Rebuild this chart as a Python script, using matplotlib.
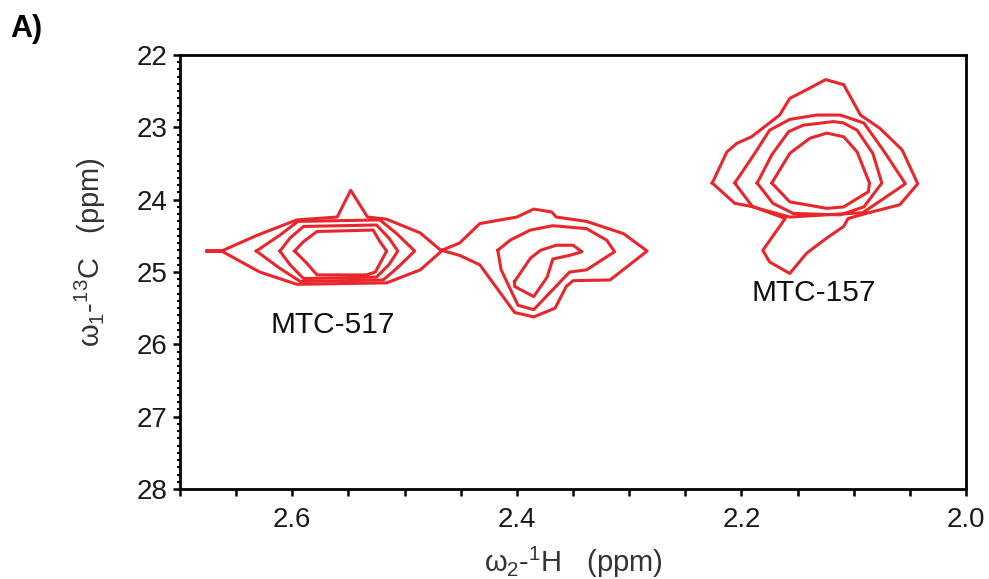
import numpy as np
import matplotlib.pyplot as plt
from matplotlib.ticker import MultipleLocator, FixedLocator

plt.rcParams['font.family'] = ['Liberation Sans', 'DejaVu Sans']
plt.rcParams['mathtext.fontset'] = 'custom'
plt.rcParams['mathtext.rm'] = 'Liberation Sans'
plt.rcParams['mathtext.it'] = 'Liberation Sans'

# contour outlines, (1H ppm, 13C ppm)
# MTC-517 peak, outer to inner
m517_1_h = [2.676, 2.663, 2.631, 2.596, 2.560, 2.548, 2.533, 2.516, 2.486, 2.467,
            2.486, 2.516, 2.596, 2.629, 2.663]
m517_1_c = [24.71, 24.71, 24.49, 24.28, 24.24, 23.87, 24.24, 24.27, 24.46, 24.71,
            24.97, 25.15, 25.17, 25.00, 24.71]
m517_2_h = [2.632, 2.611, 2.595, 2.522, 2.507, 2.491, 2.507, 2.519, 2.593, 2.611]
m517_2_c = [24.71, 24.49, 24.30, 24.28, 24.47, 24.71, 24.95, 25.11, 25.13, 24.95]
m517_3_h = [2.611, 2.602, 2.590, 2.525, 2.514, 2.506, 2.514, 2.525, 2.590, 2.602]
m517_3_c = [24.71, 24.53, 24.37, 24.35, 24.53, 24.71, 24.90, 25.07, 25.09, 24.90]
m517_4_h = [2.598, 2.590, 2.578, 2.528, 2.522, 2.516, 2.526, 2.534, 2.578, 2.587]
m517_4_c = [24.71, 24.58, 24.44, 24.42, 24.58, 24.71, 25.00, 25.04, 25.04, 24.88]

# unlabelled peak near 2.37 ppm
mid_1_h = [2.467, 2.451, 2.433, 2.400, 2.385, 2.369, 2.365, 2.338, 2.305, 2.284,
           2.317, 2.350, 2.356, 2.366, 2.385, 2.402, 2.433, 2.451]
mid_1_c = [24.70, 24.60, 24.33, 24.24, 24.13, 24.17, 24.24, 24.30, 24.47, 24.71,
           25.11, 25.12, 25.20, 25.50, 25.62, 25.56, 24.90, 24.77]
mid_2_h = [2.417, 2.406, 2.388, 2.368, 2.338, 2.320, 2.313, 2.338, 2.353, 2.385, 2.399, 2.414]
mid_2_c = [24.70, 24.56, 24.42, 24.36, 24.40, 24.56, 24.72, 24.97, 25.00, 25.52, 25.46, 24.97]
mid_3_h = [2.402, 2.388, 2.379, 2.365, 2.350, 2.342, 2.353, 2.368, 2.373, 2.385, 2.402]
mid_3_c = [25.13, 24.81, 24.70, 24.63, 24.63, 24.72, 24.77, 24.82, 25.07, 25.34, 25.20]

# MTC-157 peak
m157_1_h = [2.226, 2.213, 2.204, 2.191, 2.166, 2.157, 2.142, 2.125, 2.109, 2.094,
            2.077, 2.057, 2.043, 2.059, 2.089, 2.105, 2.109, 2.124, 2.142, 2.157,
            2.175, 2.181, 2.161, 2.189, 2.206]
m157_1_c = [23.77, 23.34, 23.22, 23.13, 22.83, 22.60, 22.48, 22.34, 22.41, 22.83,
            23.01, 23.31, 23.78, 24.07, 24.19, 24.26, 24.37, 24.53, 24.74, 25.02,
            24.86, 24.70, 24.26, 24.10, 24.05]
m157_2_h = [2.206, 2.189, 2.175, 2.157, 2.133, 2.112, 2.091, 2.074, 2.054, 2.071,
            2.092, 2.157, 2.190]
m157_2_c = [23.77, 23.38, 23.04, 22.89, 22.83, 22.83, 22.94, 23.31, 23.78, 23.96,
            24.18, 24.24, 24.10]
m157_3_h = [2.186, 2.173, 2.158, 2.145, 2.118, 2.109, 2.097, 2.083, 2.075, 2.091,
            2.112, 2.154, 2.172]
m157_3_c = [23.77, 23.38, 23.06, 22.97, 22.92, 22.94, 23.04, 23.36, 23.77, 24.10,
            24.21, 24.19, 24.05]
m157_4_h = [2.173, 2.157, 2.139, 2.124, 2.109, 2.097, 2.086, 2.087, 2.109, 2.124, 2.157]
m157_4_c = [23.77, 23.36, 23.15, 23.08, 23.13, 23.34, 23.77, 23.89, 24.10, 24.12, 24.03]

contours = [(m517_1_h, m517_1_c), (m517_2_h, m517_2_c), (m517_3_h, m517_3_c),
            (m517_4_h, m517_4_c), (mid_1_h, mid_1_c), (mid_2_h, mid_2_c),
            (mid_3_h, mid_3_c), (m157_1_h, m157_1_c), (m157_2_h, m157_2_c),
            (m157_3_h, m157_3_c), (m157_4_h, m157_4_c)]

peak_names = ['MTC-517', 'MTC-157']
peak_label_h = [2.564, 2.136]
peak_label_c = [25.73, 25.29]

x_labels = [2.6, 2.4, 2.2, 2.0]

red = '#e8262c'

fig = plt.figure(figsize=(9.89, 5.79), dpi=100)
ax = fig.add_axes([0.182, 0.1554, 0.7948, 0.7496])

for h, c in contours:
    ax.plot(h + h[:1], c + c[:1], color=red, lw=2.2, solid_joinstyle='round')

for name, h, c in zip(peak_names, peak_label_h, peak_label_c):
    ax.text(h, c, name, fontsize=21.5, ha='center', va='center', color='#111111')

ax.set_xlim(2.7, 2.0)
ax.set_ylim(28, 22)

ax.xaxis.set_major_locator(FixedLocator(x_labels))
ax.xaxis.set_major_formatter(plt.FuncFormatter(lambda v, p: '%.1f' % v))
ax.xaxis.set_minor_locator(MultipleLocator(0.05))
ax.yaxis.set_major_locator(MultipleLocator(1))
ax.yaxis.set_minor_locator(MultipleLocator(0.1))

ax.tick_params(axis='x', which='both', direction='out', length=5, width=1.8,
               labelsize=20, pad=8, labelcolor='#1a1a1a')
ax.tick_params(axis='y', which='major', direction='out', length=5, width=1.8,
               labelsize=20, pad=4, labelcolor='#1a1a1a')
ax.tick_params(axis='y', which='minor', direction='out', length=2.5, width=1.5)
for s in ax.spines.values():
    s.set_linewidth(2)

fig.text(573 / 989, 1 - 562 / 579, r'$\omega_{2}$-$^{1}$H   (ppm)', fontsize=21,
         ha='center', va='center', color='#333333')
fig.text(90 / 989, 1 - 252 / 579, r'$\omega_{1}$-$^{13}$C   (ppm)', fontsize=21,
         ha='center', va='center', rotation=90, color='#333333')
fig.text(10 / 989, 1 - 29 / 579, 'A)', fontsize=22, fontweight='bold',
         ha='left', va='center')

fig.savefig('out.png', dpi=100)
